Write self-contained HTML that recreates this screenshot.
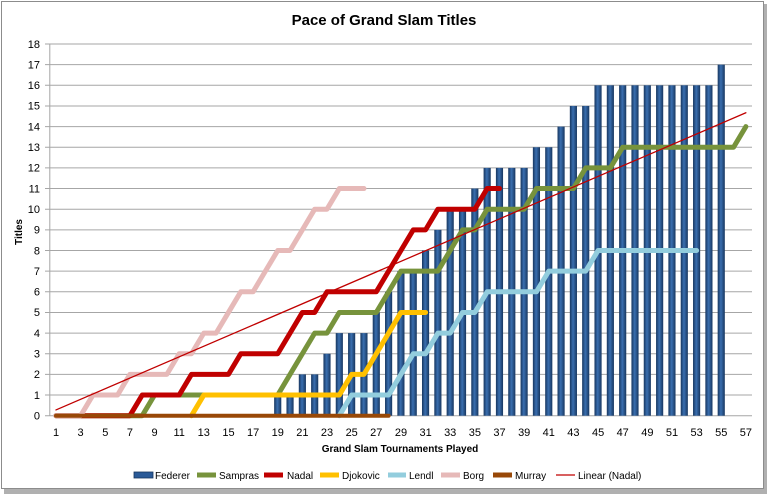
<!DOCTYPE html>
<html><head><meta charset="utf-8"><style>
html,body{margin:0;padding:0;background:#fff;}
svg{display:block;font-family:"Liberation Sans",sans-serif;}
</style></head><body>
<svg width="769" height="496" viewBox="0 0 769 496" xmlns="http://www.w3.org/2000/svg">
<defs>
<linearGradient id="bg" x1="0" y1="0" x2="1" y2="0">
<stop offset="0" stop-color="#17365f"/><stop offset="0.45" stop-color="#3a6fb0"/><stop offset="1" stop-color="#17365f"/>
</linearGradient>
</defs>
<rect x="4" y="4" width="763" height="490" fill="#b0b0b0"/>
<rect x="1.5" y="1.5" width="762" height="487" fill="#fff" stroke="#8c8c8c"/>
<text x="384" y="25" text-anchor="middle" font-size="15" font-weight="bold" fill="#000">Pace of Grand Slam Titles</text>
<g stroke="#a6a6a6" stroke-width="1">
<line x1="45" x2="752" y1="415.7" y2="415.7"/>
<line x1="45" x2="752" y1="395.05" y2="395.05"/>
<line x1="45" x2="752" y1="374.4" y2="374.4"/>
<line x1="45" x2="752" y1="353.75" y2="353.75"/>
<line x1="45" x2="752" y1="333.1" y2="333.1"/>
<line x1="45" x2="752" y1="312.45" y2="312.45"/>
<line x1="45" x2="752" y1="291.8" y2="291.8"/>
<line x1="45" x2="752" y1="271.15" y2="271.15"/>
<line x1="45" x2="752" y1="250.5" y2="250.5"/>
<line x1="45" x2="752" y1="229.85" y2="229.85"/>
<line x1="45" x2="752" y1="209.2" y2="209.2"/>
<line x1="45" x2="752" y1="188.55" y2="188.55"/>
<line x1="45" x2="752" y1="167.9" y2="167.9"/>
<line x1="45" x2="752" y1="147.25" y2="147.25"/>
<line x1="45" x2="752" y1="126.6" y2="126.6"/>
<line x1="45" x2="752" y1="105.95" y2="105.95"/>
<line x1="45" x2="752" y1="85.3" y2="85.3"/>
<line x1="45" x2="752" y1="64.65" y2="64.65"/>
<line x1="45" x2="752" y1="44" y2="44"/>
<line x1="49.8" x2="49.8" y1="44" y2="415.7"/>
</g>
<g font-size="11" fill="#000" text-anchor="end">
<text x="40" y="419.5">0</text><text x="40" y="398.8">1</text><text x="40" y="378.2">2</text><text x="40" y="357.5">3</text><text x="40" y="336.9">4</text><text x="40" y="316.2">5</text><text x="40" y="295.6">6</text><text x="40" y="274.9">7</text><text x="40" y="254.3">8</text><text x="40" y="233.6">9</text><text x="40" y="213">10</text><text x="40" y="192.3">11</text><text x="40" y="171.7">12</text><text x="40" y="151">13</text><text x="40" y="130.4">14</text><text x="40" y="109.7">15</text><text x="40" y="89.1">16</text><text x="40" y="68.4">17</text><text x="40" y="47.8">18</text>
</g>
<text transform="translate(22,232) rotate(-90)" text-anchor="middle" font-size="10" font-weight="bold">Titles</text>
<g font-size="11" fill="#000" text-anchor="middle">
<text x="56" y="436">1</text><text x="80.6" y="436">3</text><text x="105.3" y="436">5</text><text x="129.9" y="436">7</text><text x="154.6" y="436">9</text><text x="179.2" y="436">11</text><text x="203.8" y="436">13</text><text x="228.5" y="436">15</text><text x="253.1" y="436">17</text><text x="277.8" y="436">19</text><text x="302.4" y="436">21</text><text x="327" y="436">23</text><text x="351.7" y="436">25</text><text x="376.3" y="436">27</text><text x="401" y="436">29</text><text x="425.6" y="436">31</text><text x="450.2" y="436">33</text><text x="474.9" y="436">35</text><text x="499.5" y="436">37</text><text x="524.2" y="436">39</text><text x="548.8" y="436">41</text><text x="573.4" y="436">43</text><text x="598.1" y="436">45</text><text x="622.7" y="436">47</text><text x="647.4" y="436">49</text><text x="672" y="436">51</text><text x="696.6" y="436">53</text><text x="721.3" y="436">55</text><text x="745.9" y="436">57</text>
</g>
<text x="400" y="452" text-anchor="middle" font-size="10" font-weight="bold">Grand Slam Tournaments Played</text>
<g transform="translate(43.64,415.7) scale(12.32,-20.65)">
<g fill="url(#bg)">
<rect x="18.71" y="0" width="0.58" height="1"/><rect x="19.71" y="0" width="0.58" height="1"/>
<rect x="20.71" y="0" width="0.58" height="2"/><rect x="21.71" y="0" width="0.58" height="2"/>
<rect x="22.71" y="0" width="0.58" height="3"/>
<rect x="23.71" y="0" width="0.58" height="4"/><rect x="24.71" y="0" width="0.58" height="4"/><rect x="25.71" y="0" width="0.58" height="4"/>
<rect x="26.71" y="0" width="0.58" height="5"/><rect x="27.71" y="0" width="0.58" height="6"/>
<rect x="28.71" y="0" width="0.58" height="7"/><rect x="29.71" y="0" width="0.58" height="7"/>
<rect x="30.71" y="0" width="0.58" height="8"/><rect x="31.71" y="0" width="0.58" height="9"/>
<rect x="32.71" y="0" width="0.58" height="10"/><rect x="33.71" y="0" width="0.58" height="10"/>
<rect x="34.71" y="0" width="0.58" height="11"/>
<rect x="35.71" y="0" width="0.58" height="12"/><rect x="36.71" y="0" width="0.58" height="12"/><rect x="37.71" y="0" width="0.58" height="12"/><rect x="38.71" y="0" width="0.58" height="12"/>
<rect x="39.71" y="0" width="0.58" height="13"/><rect x="40.71" y="0" width="0.58" height="13"/>
<rect x="41.71" y="0" width="0.58" height="14"/>
<rect x="42.71" y="0" width="0.58" height="15"/><rect x="43.71" y="0" width="0.58" height="15"/>
<rect x="44.71" y="0" width="0.58" height="16"/><rect x="45.71" y="0" width="0.58" height="16"/><rect x="46.71" y="0" width="0.58" height="16"/><rect x="47.71" y="0" width="0.58" height="16"/><rect x="48.71" y="0" width="0.58" height="16"/><rect x="49.71" y="0" width="0.58" height="16"/><rect x="50.71" y="0" width="0.58" height="16"/><rect x="51.71" y="0" width="0.58" height="16"/><rect x="52.71" y="0" width="0.58" height="16"/><rect x="53.71" y="0" width="0.58" height="16"/>
<rect x="54.71" y="0" width="0.58" height="17"/>
</g>
<g fill="none" stroke-linejoin="round" stroke-linecap="round">
<polyline vector-effect="non-scaling-stroke" stroke="#77933c" stroke-width="5" points="1,0 8,0 9,1 19,1 20,2 21,3 22,4 23,4 24,5 27,5 28,6 29,7 32,7 33,8 34,9 35,9 36,10 39,10 40,11 43,11 44,12 46,12 47,13 56,13 57,14"/>
<polyline vector-effect="non-scaling-stroke" stroke="#c00000" stroke-width="5" points="1,0 7,0 8,1 11,1 12,2 15,2 16,3 19,3 20,4 21,5 22,5 23,6 27,6 28,7 29,8 30,9 31,9 32,10 35,10 36,11 37,11"/>
<polyline vector-effect="non-scaling-stroke" stroke="#ffc000" stroke-width="5" points="12,0 13,1 24,1 25,2 26,2 27,3 28,4 29,5 31,5"/>
<polyline vector-effect="non-scaling-stroke" stroke="#93cddd" stroke-width="5" points="24,0 25,1 28,1 29,2 30,3 31,3 32,4 33,4 34,5 35,5 36,6 40,6 41,7 44,7 45,8 53,8"/>
<polyline vector-effect="non-scaling-stroke" stroke="#e6b9b8" stroke-width="5" points="1,0 3,0 4,1 6,1 7,2 10,2 11,3 12,3 13,4 14,4 15,5 16,6 17,6 18,7 19,8 20,8 21,9 22,10 23,10 24,11 26,11"/>
<polyline vector-effect="non-scaling-stroke" stroke="#984807" stroke-width="4" points="1,0 28,0"/>
<polyline vector-effect="non-scaling-stroke" stroke="#c00000" stroke-width="1.3" points="1,0.28 57,14.67"/>
</g>
</g>
<g font-size="10" fill="#000">
<rect x="134" y="472" width="19" height="6" fill="#2a5a98" stroke="#17365f" stroke-width="0.8"/><text x="155" y="479">Federer</text>
<line x1="197" x2="216" y1="475" y2="475" stroke="#77933c" stroke-width="5"/><text x="219" y="479">Sampras</text>
<line x1="264" x2="283" y1="475" y2="475" stroke="#c00000" stroke-width="5"/><text x="287" y="479">Nadal</text>
<line x1="320" x2="339" y1="475" y2="475" stroke="#ffc000" stroke-width="5"/><text x="342" y="479">Djokovic</text>
<line x1="388" x2="406" y1="475" y2="475" stroke="#93cddd" stroke-width="5"/><text x="409" y="479">Lendl</text>
<line x1="441" x2="460" y1="475" y2="475" stroke="#e6b9b8" stroke-width="5"/><text x="463" y="479">Borg</text>
<line x1="493" x2="512" y1="475" y2="475" stroke="#984807" stroke-width="5"/><text x="515" y="479">Murray</text>
<line x1="556" x2="575" y1="475" y2="475" stroke="#c00000" stroke-width="1.3"/><text x="578" y="479">Linear (Nadal)</text>
</g>
</svg>
</body></html>
